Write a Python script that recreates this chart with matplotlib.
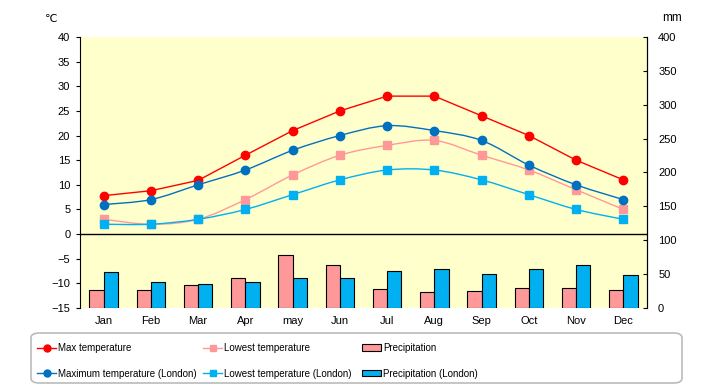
import numpy as np
import matplotlib.pyplot as plt
from matplotlib.path import Path
from matplotlib.patches import PathPatch, FancyBboxPatch
from matplotlib.lines import Line2D

plt.rcParams['font.family'] = ['Liberation Sans', 'DejaVu Sans']

months = ['Jan', 'Feb', 'Mar', 'Apr', 'may', 'Jun', 'Jul', 'Aug', 'Sep',
          'Oct', 'Nov', 'Dec']
max_temp = [7.8, 8.8, 10.9, 16, 21, 25, 28, 28, 24, 20, 15, 11]
low_temp = [3, 2, 3, 7, 12, 16, 18, 19, 16, 13, 9, 5]
max_temp_london = [6, 7, 10, 13, 17, 20, 22, 21, 19, 14, 10, 7]
low_temp_london = [2, 2, 3, 5, 8, 11, 13, 13, 11, 8, 5, 3]
precip = [26, 26, 33.5, 45, 78, 63, 27.5, 23, 24.5, 29, 29, 26.5]
precip_london = [53, 39, 36, 38, 45, 45, 55, 58, 49.5, 57, 63, 48]

x = np.arange(len(months))


def smooth_line(ax, xs, ys, color):
    # bezier curve through the points, like excel's smoothed line
    p = np.column_stack([xs, ys]).astype(float)
    pp = np.vstack([p[0], p, p[-1]])
    verts = [p[0]]
    codes = [Path.MOVETO]
    for i in range(len(p) - 1):
        c1 = pp[i + 1] + (pp[i + 2] - pp[i]) / 6
        c2 = pp[i + 2] - (pp[i + 3] - pp[i + 1]) / 6
        verts += [c1, c2, pp[i + 2]]
        codes += [Path.CURVE4] * 3
    ax.add_patch(PathPatch(Path(verts, codes), facecolor='none',
                           edgecolor=color, linewidth=1, zorder=2))


fig = plt.figure(figsize=(7.2, 3.85), dpi=100)
ax = fig.add_axes([80 / 720, 77 / 385, 567 / 720, 271 / 385])
ax2 = ax.twinx()
ax.set_zorder(2)
ax.patch.set_visible(False)
ax2.set_zorder(1)
ax2.patch.set_facecolor('#ffffcc')
ax2.patch.set_visible(True)

w = 0.3
ax2.bar(x - w / 2, precip, w, color='#ff9999', edgecolor='black',
        linewidth=0.8)
ax2.bar(x + w / 2, precip_london, w, color='#00b0f0', edgecolor='black',
        linewidth=0.8)

ax.plot(x, max_temp, color='#ff0000', marker='o', markersize=6, linewidth=1)
smooth_line(ax, x, low_temp, '#ff9999')
ax.plot(x, low_temp, color='#ff9999', marker='s', markersize=5.5,
        linestyle='none')
smooth_line(ax, x, max_temp_london, '#0070c0')
ax.plot(x, max_temp_london, color='#0070c0', marker='o', markersize=6,
        linestyle='none')
smooth_line(ax, x, low_temp_london, '#00b0f0')
ax.plot(x, low_temp_london, color='#00b0f0', marker='s', markersize=5.5,
        linestyle='none')
ax.axhline(0, color='black', linewidth=1)

ax.set_xlim(-0.5, 11.5)
ax.set_ylim(-15, 40)
ax.set_yticks(range(-15, 41, 5))
ax2.set_ylim(0, 400)
ax2.set_yticks(range(0, 401, 50))
ax.set_xticks(x)
ax.set_xticklabels(months)

for a in (ax, ax2):
    a.spines['top'].set_visible(False)
    a.spines['bottom'].set_visible(False)
    a.tick_params(labelsize=8, length=3, width=0.8)
ax.tick_params(axis='x', length=0, pad=6)
ax.tick_params(axis='y', pad=4)
ax2.tick_params(axis='y', direction='in', pad=8)
ax2.spines['left'].set_visible(False)

fig.text(51 / 720, 1 - 19 / 385, '℃', fontsize=8, ha='center',
         va='center', family='DejaVu Sans')
fig.text(672 / 720, 1 - 18 / 385, 'mm', fontsize=8.5, ha='center',
         va='center')

# legend frame
fig.patches.append(FancyBboxPatch((31 / 720, 2 / 385), 651 / 720, 50 / 385,
                                  boxstyle='round,pad=0,rounding_size=0.012',
                                  transform=fig.transFigure, facecolor='white',
                                  edgecolor='#bbbbbb', linewidth=1.2))

cols = [
    ([Line2D([], [], color='#ff0000', marker='o', markersize=5, linewidth=1),
      Line2D([], [], color='#0070c0', marker='o', markersize=5, linewidth=1)],
     ['Max temperature', 'Maximum temperature (London)'], 37),
    ([Line2D([], [], color='#ff9999', marker='s', markersize=4.5, linewidth=1),
      Line2D([], [], color='#00b0f0', marker='s', markersize=4.5, linewidth=1)],
     ['Lowest temperature', 'Lowest temperature (London)'], 203),
    ([plt.Rectangle((0, 0), 1, 1, facecolor='#ff9999', edgecolor='black',
                    linewidth=0.8),
      plt.Rectangle((0, 0), 1, 1, facecolor='#00b0f0', edgecolor='black',
                    linewidth=0.8)],
     ['Precipitation', 'Precipitation (London)'], 362),
]
for hs, ls, xpos in cols:
    fig.legend(hs, ls, loc='upper left',
               bbox_to_anchor=(xpos / 720, 1 - 343 / 385),
               fontsize=7, frameon=False, handlelength=2.0,
               handleheight=0.6, handletextpad=0.2, borderaxespad=0,
               borderpad=0, labelspacing=1.6)

fig.savefig('out.png', dpi=100)
